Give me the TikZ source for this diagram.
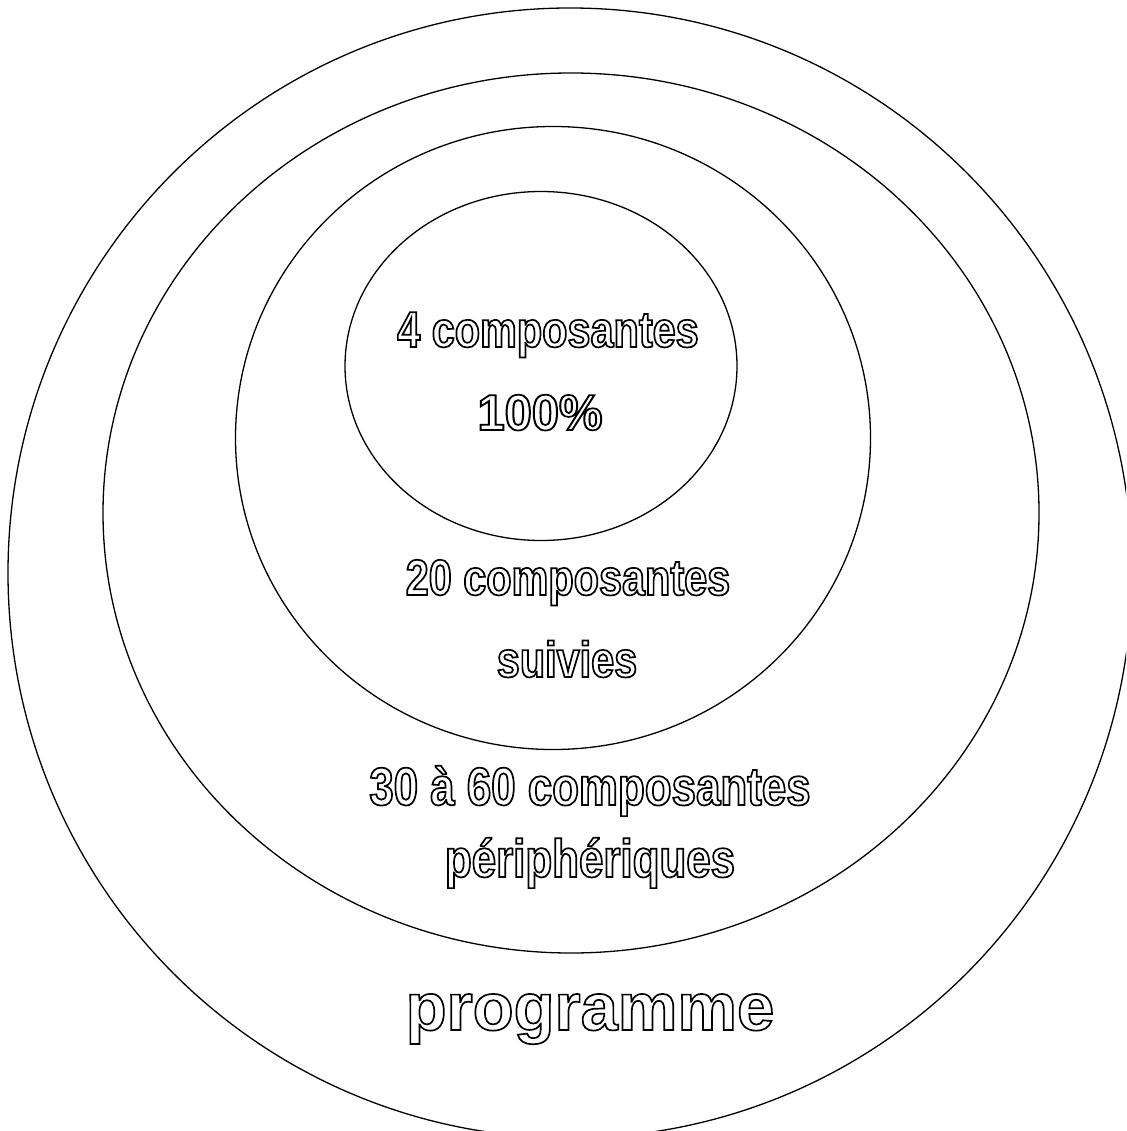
\documentclass[tikz,border=0pt]{standalone}
\usepackage{fontspec}
\usepackage{tikz}
\usetikzlibrary{shapes.geometric, positioning}
\setmainfont{Liberation Sans}
\newfontfamily\narrowsans[FakeStretch=0.82]{Liberation Sans Bold}
\newfontfamily\widesans{Liberation Sans Bold}
% hollow letters: stroke only
\newcommand{\hollow}[1]{\special{pdf:literal direct 1 Tr 1.7 w}#1\special{pdf:literal direct 0 Tr}}
\tikzset{
  ring/.style   ={draw=black, line width=1.3pt, ellipse, inner sep=0pt},
  tag/.style    ={anchor=base, inner sep=0pt,
                  font=\narrowsans\fontsize{50.5}{60}\selectfont},
  outertag/.style={tag, font=\narrowsans\fontsize{53.5}{64}\selectfont},
  bigtag/.style ={tag, font=\widesans\fontsize{67}{80}\selectfont}
}

\begin{document}
\begin{tikzpicture}[x=1pt, y=-1pt]
  \useasboundingbox (0,0) rectangle (1126,1131);
  \clip (0,0) rectangle (1126,1131);

  \node[ring, minimum width=1124, minimum height=1130] (prog)   at (570,573) {};
  \node[ring, minimum width=936,  minimum height=880]  (periph) at (571,513) {};
  \node[ring, minimum width=635,  minimum height=623]  (follow) at (553,438) {};
  \node[ring, minimum width=392,  minimum height=349]  (core)   at (541,366) {};

  \node[tag] (core1)   at (548,347)  {\hollow{4 composantes}};
  \node[tag] (core2)   at (540,430)  {\scalebox{1.18}[1]{\hollow{100\%}}};
  \node[tag] (follow1) at (568,595)  {\hollow{20 composantes}};
  \node[tag] (follow2) at (567,677)  {\hollow{suivies}};
  \node[outertag] (periph1) at (590,805) {\hollow{30 à 60 composantes}};
  \node[outertag] (periph2) at (590,877) {\hollow{périphériques}};
  \node[bigtag] (prog1) at (590,1030) {\hollow{programme}};

\end{tikzpicture}
\end{document}
